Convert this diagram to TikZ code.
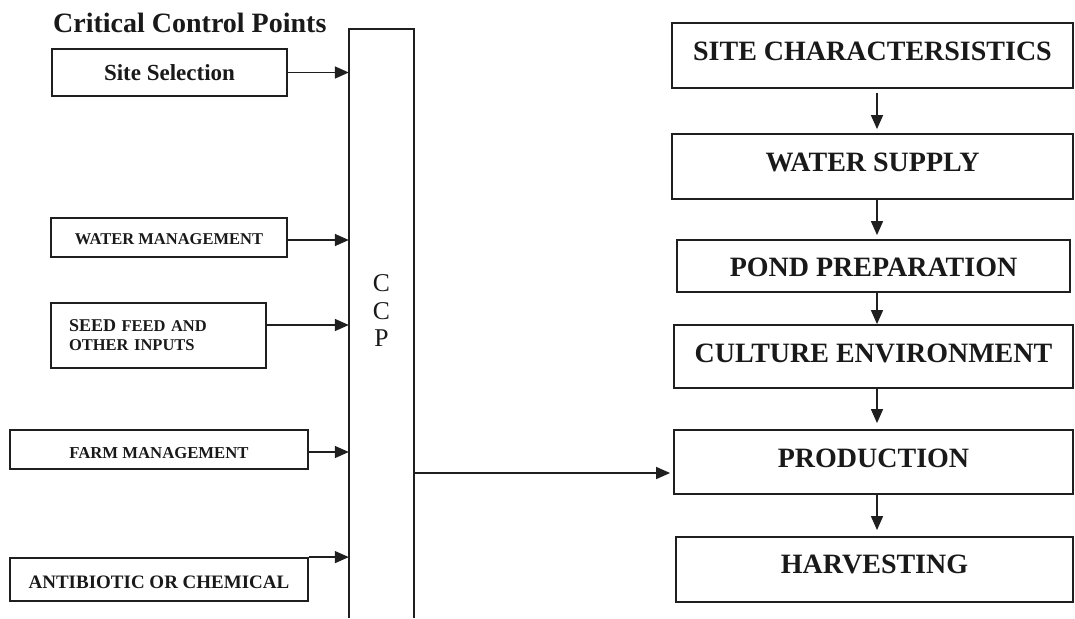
\documentclass[tikz,border=0pt]{standalone}
\usepackage{fontspec}
\setmainfont{Liberation Serif}
\usetikzlibrary{arrows.meta}
\newcommand\fsz[1]{\fontsize{#1}{#1}\selectfont}
\newcommand\fszskip[2]{\fontsize{#1}{#2}\selectfont}

\begin{document}
\begin{tikzpicture}[x=1pt,y=-1pt,
  ink/.style={draw=black!88, line width=1.8pt},
  box/.style={ink, rectangle, inner sep=0pt, text=black!90},
  flowbox/.style={box, text depth=0pt, font=\bfseries\fsz{28}},
  arr/.style={line width=1.5pt, draw=black!88,
    -{Triangle[length=14pt,width=12pt]}},
]
\useasboundingbox (0,0) rectangle (1075,618);

% heading of the left column
\node[anchor=base west, inner sep=0pt, text=black!90, font=\bfseries\fsz{28}]
  (title) at (53,33) {Critical Control Points};

% critical control points
\node[box, minimum width=235pt, minimum height=47pt, text height=15pt,
  text depth=0pt, font=\bfseries\fsz{23}] (site) at (169.5,72.5) {Site Selection};
\node[box, minimum width=236pt, minimum height=39pt, text height=13pt,
  text depth=0pt, font=\bfseries\fsz{16.5}] (water) at (169,237.5) {WATER MANAGEMENT};
\node[box, minimum width=215pt, minimum height=65pt, inner xsep=18pt,
  text width=179pt, align=left, font=\bfseries\fszskip{16.5}{19}]
  (seed) at (158.5,335.5) {{\fsz{18}SEED} FEED AND\\OTHER INPUTS};
\node[box, minimum width=298pt, minimum height=39pt, text height=17pt,
  text depth=0pt, font=\bfseries\fsz{16.7}] (farm) at (159,449.5) {FARM MANAGEMENT};
\node[box, minimum width=298pt, minimum height=43pt, text height=17pt,
  text depth=0pt, font=\bfseries\fsz{19}] (anti) at (159,579.5) {ANTIBIOTIC OR CHEMICAL};

% the CCP column, open at the bottom
\node[minimum width=65pt, minimum height=589pt, inner sep=0pt] (ccp) at (381.5,323.5) {};
\draw[ink] (ccp.south west) -- (ccp.north west) -- (ccp.north east) -- (ccp.south east);
\node[inner sep=0pt, align=center, text=black!90, font=\fszskip{25.6}{27.5}]
  (ccplabel) at (381.5,311) {C\\C\\P};

% production chain
\node[flowbox, minimum width=401pt, minimum height=65pt, text height=9pt]
  (sc) at (872.5,55.5) {SITE CHARACTERSISTICS};
\node[flowbox, minimum width=401pt, minimum height=65pt, text height=9pt]
  (ws) at (872.5,166.5) {WATER SUPPLY};
\node[flowbox, minimum width=393pt, minimum height=52pt, text height=20pt]
  (pp) at (873.5,266) {POND PREPARATION};
\node[flowbox, minimum width=399pt, minimum height=63pt, text height=11pt]
  (ce) at (873.5,356.5) {CULTURE ENVIRONMENT};
\node[flowbox, minimum width=399pt, minimum height=64pt, text height=10pt]
  (pr) at (873.5,462) {PRODUCTION};
\node[flowbox, minimum width=397pt, minimum height=65pt, text height=7pt]
  (hv) at (874.5,569.5) {HARVESTING};

% arrows down the chain
\coordinate (axis) at (877,0);
\draw[arr, shorten <=4pt, shorten >=4pt] (sc.south -| axis) -- (ws.north -| axis);
\draw[arr, shorten >=4pt] (ws.south -| axis) -- (pp.north -| axis);
\draw[arr] (pp.south -| axis) -- (ce.north -| axis);
\draw[arr, shorten >=6pt] (ce.south -| axis) -- (pr.north -| axis);
\draw[arr, shorten >=6pt] (pr.south -| axis) -- (hv.north -| axis);

% arrows into the CCP column
\coordinate (waterout) at ([yshift=-2.5pt]water.east);
\coordinate (seedout) at ([yshift=10.5pt]seed.east);
\coordinate (farmout) at ([yshift=-2.5pt]farm.east);
\draw[arr] (site.east) -- (site.east -| ccp.west);
\draw[arr] (waterout) -- (waterout -| ccp.west);
\draw[arr] (seedout) -- (seedout -| ccp.west);
\draw[arr] (farmout) -- (farmout -| ccp.west);
\draw[arr] (anti.north east) -- (anti.north east -| ccp.west);

% from the CCP column to production
\coordinate (prin) at ([yshift=-11pt]pr.west);
\draw[arr, shorten >=3pt] (prin -| ccp.east) -- (prin);
\end{tikzpicture}
\end{document}
